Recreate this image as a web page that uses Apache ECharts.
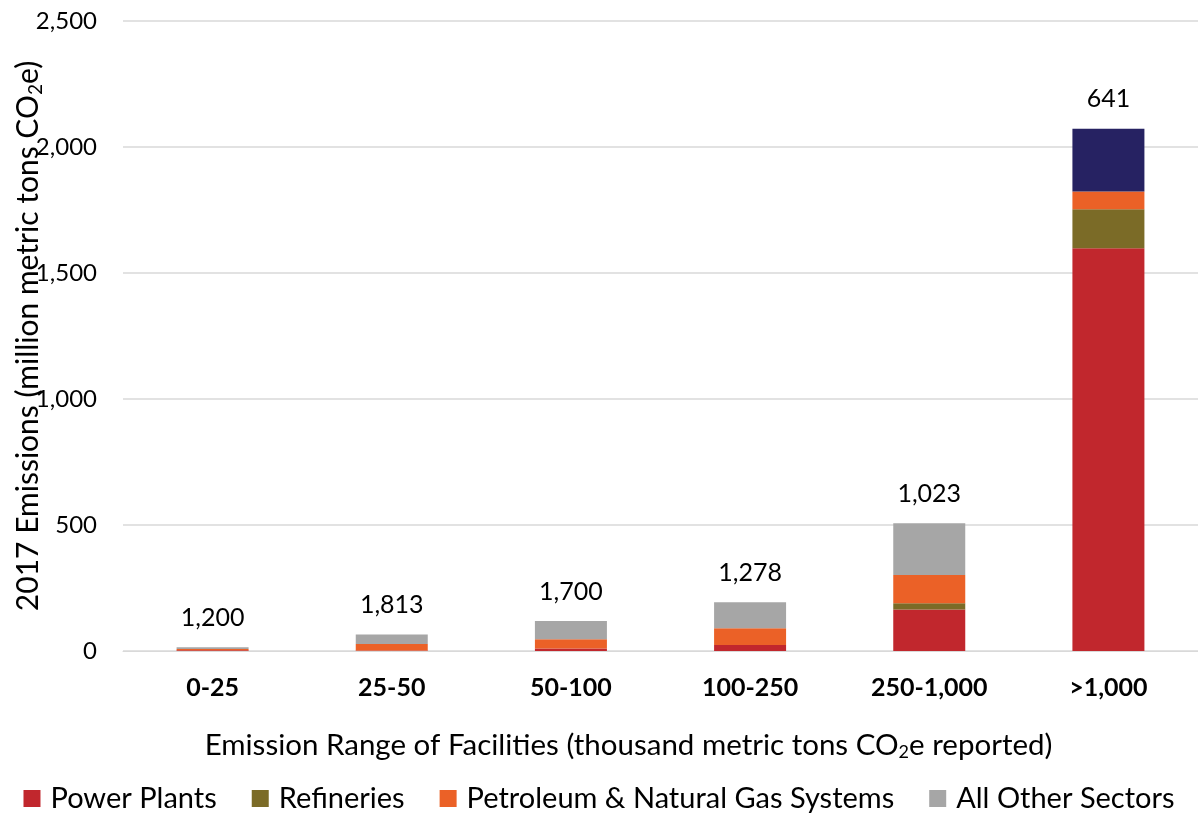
<!DOCTYPE html>
<html>
<head>
<meta charset="utf-8">
<script src="https://cdn.jsdelivr.net/npm/echarts@6/dist/echarts.min.js"></script>
<style>html,body{margin:0;padding:0;background:#fff}#c{width:1198px;height:814px}</style>
</head>
<body>
<div id="c"></div>
<script>
const categories = ['0-25', '25-50', '50-100', '100-250', '250-1,000', '>1,000'];
const facilityCounts = ['1,200', '1,813', '1,700', '1,278', '1,023', '641'];
const powerPlants = [3, 2, 10, 24, 165, 1598];
const refineries = [0, 0, 0, 0, 24, 155];
const petroleumGas = [5, 26, 37, 66, 113, 70];
const allOther = [7, 37, 72, 103, 205, 249];
const yTicks = [0, 500, 1000, 1500, 2000, 2500];

const FONT = 'Lato';
const colors = { power: '#C1272D', ref: '#7B6B27', pet: '#EB6127', other: '#A6A6A6', navy: '#262262' };

const chart = echarts.init(document.getElementById('c'), null, { renderer: 'canvas' });
const otherData = allOther.map((v, i) => i === allOther.length - 1
  ? { value: v, itemStyle: { color: colors.navy } } : v);

const barW = 72;
chart.setOption({
  animation: false,
  textStyle: { fontFamily: FONT },
  grid: { left: 123, right: 0, top: 21, bottom: 163, containLabel: false, outerBoundsMode: 'none' },
  legend: {
    top: 779, left: 'center', icon: 'rect', itemWidth: 17, itemHeight: 17, itemGap: 35,
    padding: [5, 0, 5, 12],
    textStyle: { fontSize: 29, color: '#000', fontFamily: FONT, padding: [0, 0, 0, 5] },
    data: ['Power Plants', 'Refineries', 'Petroleum & Natural Gas Systems', 'All Other Sectors']
  },
  xAxis: {
    type: 'category', data: categories,
    axisLine: { show: true, lineStyle: { color: '#D9D9D9', width: 1 } },
    axisTick: { show: false },
    axisLabel: { fontSize: 25, fontWeight: 'bold', color: '#000', margin: 24, fontFamily: FONT },
    name: 'Emission Range of Facilities (thousand metric tons CO{sub|2}e reported)',
    nameLocation: 'middle', nameGap: 78,
    nameTextStyle: { fontSize: 29.5, color: '#000', fontFamily: FONT, padding: [0, 64, 0, 0],
      rich: { sub: { fontSize: 18, verticalAlign: 'bottom', padding: [14, 0, 0, 0], fontFamily: FONT } } }
  },
  yAxis: {
    type: 'value', min: 0, max: 2500, interval: 500,
    axisLine: { show: false }, axisTick: { show: false },
    splitLine: { lineStyle: { color: '#D9D9D9', width: 1.5 } },
    axisLabel: { fontSize: 24, color: '#000', margin: 26, fontFamily: FONT,
      formatter: v => v.toLocaleString('en-US') },
    name: '2017 Emissions (million metric tons CO{sub|2}e)',
    nameLocation: 'middle', nameGap: 78, nameMoveOverlap: false,
    nameTextStyle: { fontSize: 30, color: '#000', fontFamily: FONT,
      rich: { sub: { fontSize: 19, verticalAlign: 'bottom', padding: [14, 0, 0, 0], fontFamily: FONT } } }
  },
  series: [
    { name: 'Power Plants', type: 'bar', stack: 't', barWidth: barW, data: powerPlants, itemStyle: { color: colors.power } },
    { name: 'Refineries', type: 'bar', stack: 't', barWidth: barW, data: refineries, itemStyle: { color: colors.ref } },
    { name: 'Petroleum & Natural Gas Systems', type: 'bar', stack: 't', barWidth: barW, data: petroleumGas, itemStyle: { color: colors.pet } },
    { name: 'All Other Sectors', type: 'bar', stack: 't', barWidth: barW, data: otherData, itemStyle: { color: colors.other },
      label: { show: true, position: 'top', distance: 17, fontSize: 25, color: '#000', fontFamily: FONT,
        formatter: p => facilityCounts[p.dataIndex] } }
  ]
});
</script>
</body>
</html>
